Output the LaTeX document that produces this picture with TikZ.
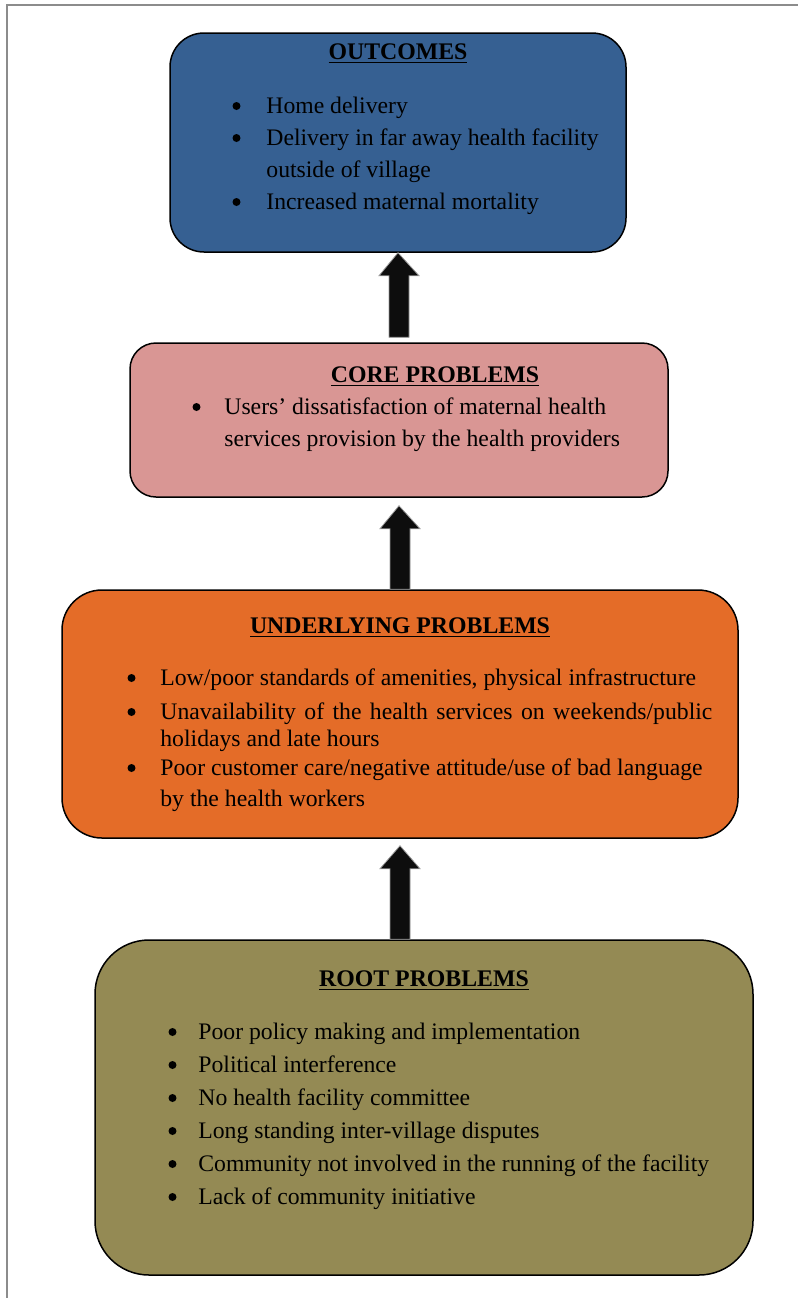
\documentclass[tikz,border=0pt]{standalone}
\usepackage{fontspec}
\setmainfont{Liberation Serif}
\usetikzlibrary{calc}
\definecolor{outblue}{HTML}{366092}
\definecolor{corepink}{HTML}{D99694}
\definecolor{undorange}{HTML}{E46C28}
\definecolor{roottan}{HTML}{948A54}
\definecolor{framegray}{HTML}{8C8C8C}
\definecolor{arrowgray}{HTML}{9A9A9A}
\newcommand\blkarrow[2]{%
  \draw[blockarr] let \p1=(#1), \p2=(#2) in
    (\x1-5pt,\y1) -- (\x1-5pt,\y2-11.5pt) -- (\x1-10pt,\y2-11.5pt) -- (\x2,\y2)
    -- (\x1+10pt,\y2-11.5pt) -- (\x1+5pt,\y2-11.5pt) -- (\x1+5pt,\y1) -- cycle;}
\begin{document}
\begin{tikzpicture}[x=0.5pt,y=-0.5pt,
  box/.style={draw=black,line width=0.75pt,inner sep=0pt},
  ttl/.style={inner sep=0pt,anchor=base,font=\fontsize{11.9}{14}\selectfont\bfseries},
  txt/.style={inner sep=0pt,anchor=base west,font=\fontsize{11.85}{14}\selectfont},
  bul/.style={circle,fill=black,inner sep=0pt,minimum size=4pt},
  blockarr/.style={fill=black!95,draw=arrowgray,line width=0.4pt},
  frameline/.style={draw=framegray,line width=0.75pt}]
\useasboundingbox (0,0) rectangle (798,1298);
% frame
\coordinate (fr1) at (7,1298);
\coordinate (fr2) at (7,5);
\coordinate (fr3) at (798,5);
\draw[frameline] (fr1) -- (fr2) -- (fr3);
% boxes
\node[box,fill=outblue,minimum width=228pt,minimum height=109.5pt,rounded corners=17pt] (out) at (398,142.5) {};
\node[box,fill=corepink,minimum width=269pt,minimum height=77pt,rounded corners=13pt] (core) at (399,420) {};
\node[box,fill=undorange,minimum width=338pt,minimum height=124pt,rounded corners=20pt] (und) at (400,714) {};
\node[box,fill=roottan,minimum width=329pt,minimum height=167.5pt,rounded corners=27pt] (root) at (424,1107.5) {};
% outcomes text
\node[ttl] (t1) at (398,59) {\underline{OUTCOMES}};
\node[bul] (b11) at (236.5,106) {};
\node[txt] (l11) at (266,113) {Home delivery};
\node[bul] (b12) at (236.5,138) {};
\node[txt] (l12) at (266,145) {Delivery in far away health facility};
\node[txt] (l13) at (266,177) {outside of village};
\node[bul] (b13) at (236.5,202) {};
\node[txt] (l14) at (266,209) {Increased maternal mortality};
% core text
\node[ttl] (t2) at (435,382) {\underline{CORE PROBLEMS}};
\node[bul] (b21) at (196.5,407) {};
\node[txt] (l21) at (224,414) {Users’ dissatisfaction of maternal health};
\node[txt] (l22) at (224,446) {services provision by the health providers};
% underlying text
\node[ttl] (t3) at (400,633) {\underline{UNDERLYING PROBLEMS}};
\node[bul] (b31) at (131.5,678) {};
\node[txt] (l31) at (160,685) {Low/poor standards of amenities, physical infrastructure};
\node[bul] (b32) at (131.5,712) {};
\node[txt] (l32) at (160,719) {\makebox[276pt][s]{Unavailability of the health services on weekends/public}};
\node[txt] (l33) at (160,746) {holidays and late hours};
\node[bul] (b33) at (131.5,768) {};
\node[txt] (l34) at (160,775) {Poor customer care/negative attitude/use of bad language};
\node[txt] (l35) at (160,806) {by the health workers};
% root text
\node[ttl] (t4) at (424,986) {\underline{ROOT PROBLEMS}};
\node[bul] (b41) at (172.5,1032) {};
\node[txt] (l41) at (198,1039) {Poor policy making and implementation};
\node[bul] (b42) at (172.5,1065) {};
\node[txt] (l42) at (198,1072) {Political interference};
\node[bul] (b43) at (172.5,1098) {};
\node[txt] (l43) at (198,1105) {No health facility committee};
\node[bul] (b44) at (172.5,1131) {};
\node[txt] (l44) at (198,1138) {Long standing inter-village disputes};
\node[bul] (b45) at (172.5,1164) {};
\node[txt] (l45) at (198,1171) {Community not involved in the running of the facility};
\node[bul] (b46) at (172.5,1197) {};
\node[txt] (l46) at (198,1204) {Lack of community initiative};
% arrows
\coordinate (a1b) at ([yshift=2.5pt]core.north);
\coordinate (a1t) at (out.south);
\blkarrow{a1b}{a1t}
\coordinate (a2b) at (und.north);
\coordinate (a2t) at ([yshift=-4pt]core.south);
\blkarrow{a2b}{a2t}
\coordinate (a3b) at (und.south |- root.north);
\coordinate (a3t) at ([yshift=-3.5pt]und.south);
\blkarrow{a3b}{a3t}
\end{tikzpicture}
\end{document}
